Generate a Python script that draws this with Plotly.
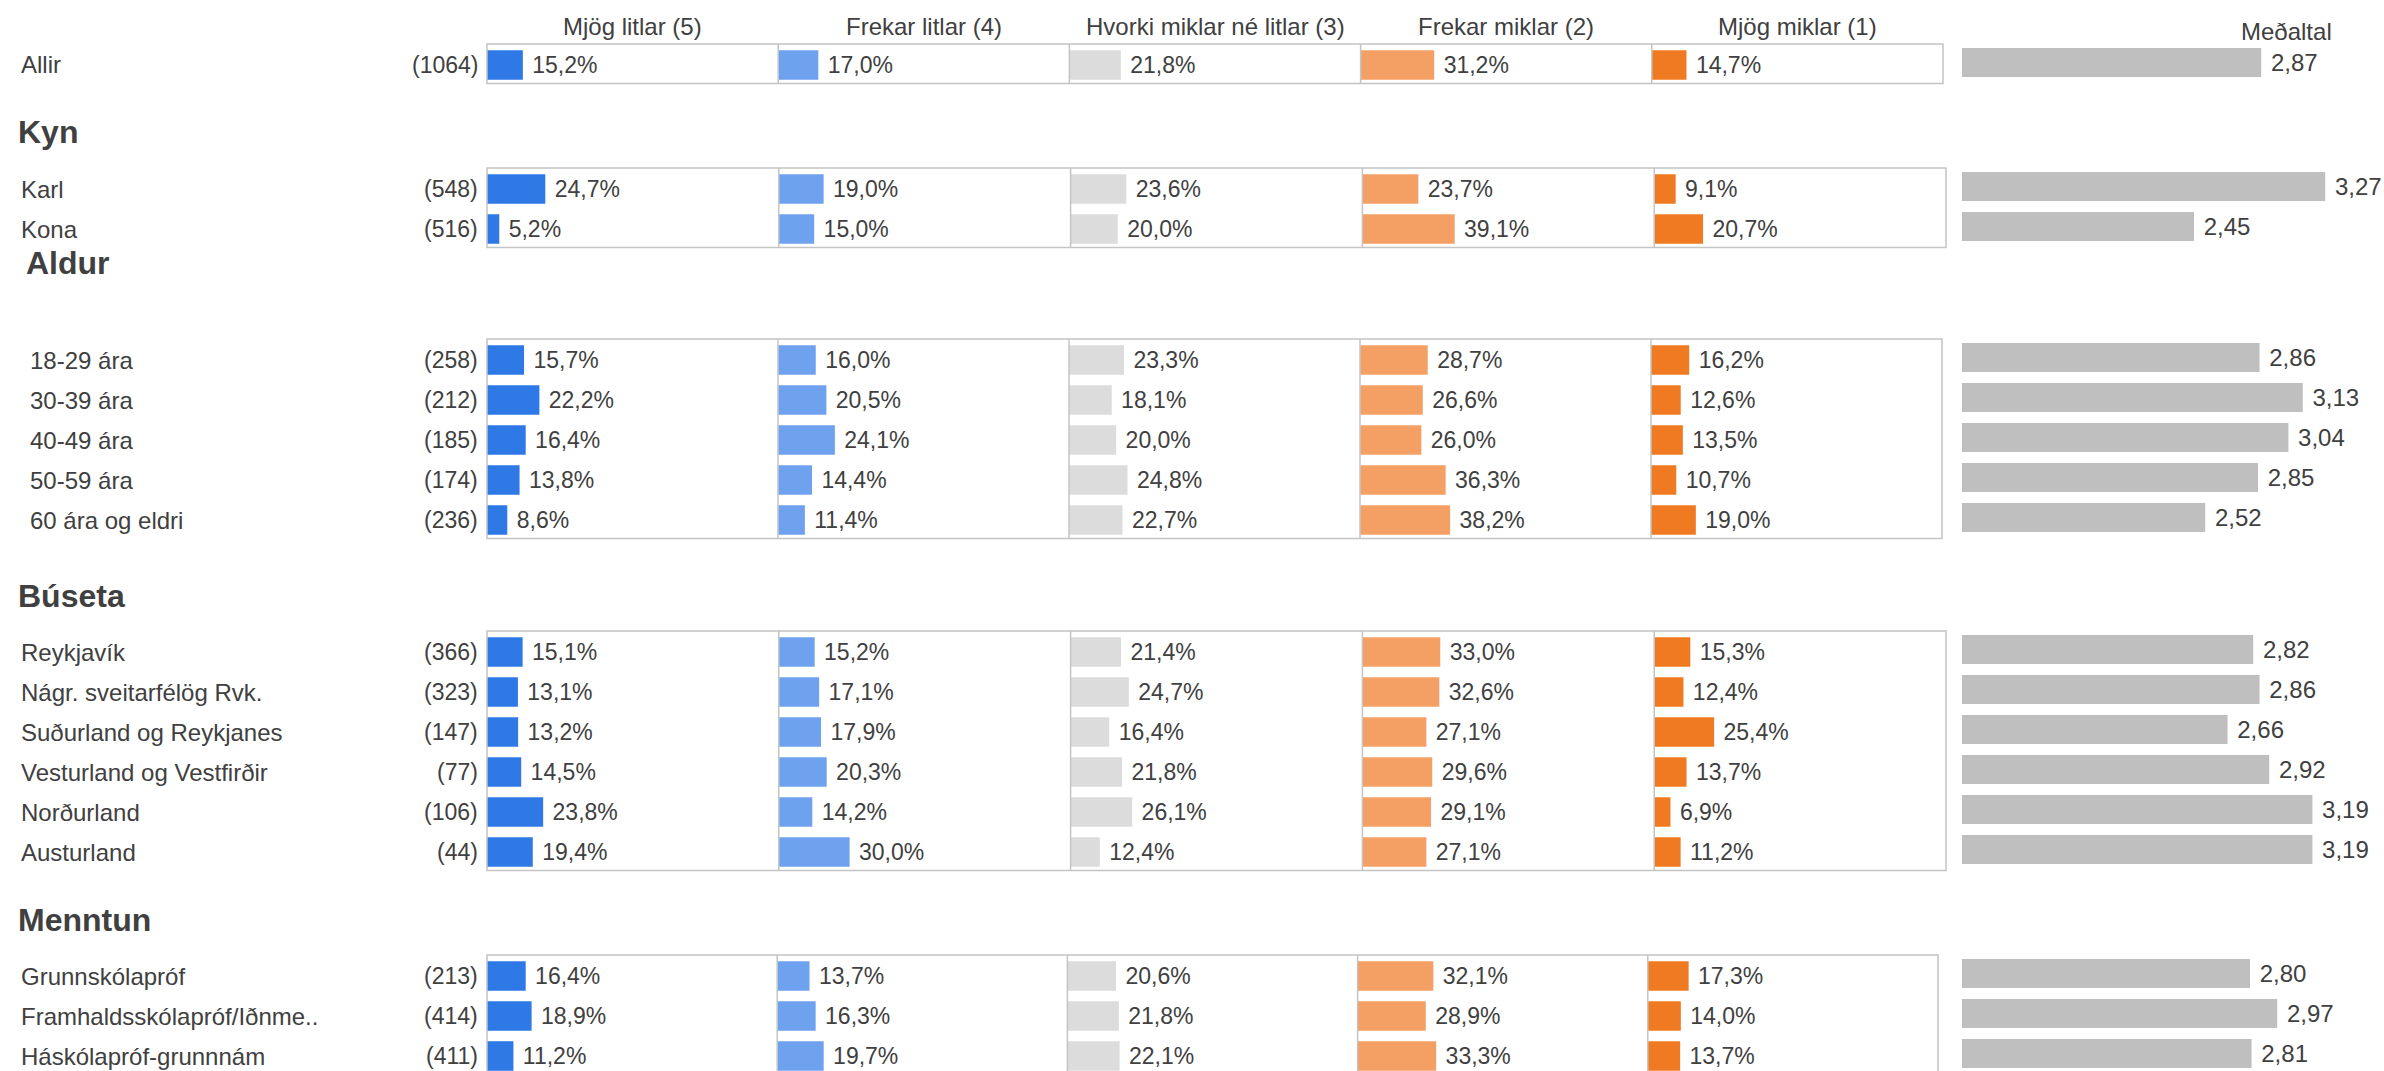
import plotly.graph_objects as go

# ---------------- data ----------------
categories = ["Allir",
              "Karl", "Kona",
              "18-29 ára", "30-39 ára", "40-49 ára", "50-59 ára", "60 ára og eldri",
              "Reykjavík", "Nágr. sveitarfélög Rvk.", "Suðurland og Reykjanes",
              "Vesturland og Vestfirðir", "Norðurland", "Austurland",
              "Grunnskólapróf", "Framhaldsskólapróf/Iðnme..", "Háskólapróf-grunnnám"]
group_of = ["",
            "Kyn", "Kyn",
            "Aldur", "Aldur", "Aldur", "Aldur", "Aldur",
            "Búseta", "Búseta", "Búseta", "Búseta", "Búseta", "Búseta",
            "Menntun", "Menntun", "Menntun"]
counts = [1064, 548, 516, 258, 212, 185, 174, 236, 366, 323, 147, 77, 106, 44, 213, 414, 411]

mjog_litlar = [15.2, 24.7, 5.2, 15.7, 22.2, 16.4, 13.8, 8.6, 15.1, 13.1, 13.2, 14.5, 23.8, 19.4, 16.4, 18.9, 11.2]
frekar_litlar = [17.0, 19.0, 15.0, 16.0, 20.5, 24.1, 14.4, 11.4, 15.2, 17.1, 17.9, 20.3, 14.2, 30.0, 13.7, 16.3, 19.7]
hvorki = [21.8, 23.6, 20.0, 23.3, 18.1, 20.0, 24.8, 22.7, 21.4, 24.7, 16.4, 21.8, 26.1, 12.4, 20.6, 21.8, 22.1]
frekar_miklar = [31.2, 23.7, 39.1, 28.7, 26.6, 26.0, 36.3, 38.2, 33.0, 32.6, 27.1, 29.6, 29.1, 27.1, 32.1, 28.9, 33.3]
mjog_miklar = [14.7, 9.1, 20.7, 16.2, 12.6, 13.5, 10.7, 19.0, 15.3, 12.4, 25.4, 13.7, 6.9, 11.2, 17.3, 14.0, 13.7]
medaltal = [2.87, 3.27, 2.45, 2.86, 3.13, 3.04, 2.85, 2.52, 2.82, 2.86, 2.66, 2.92, 3.19, 3.19, 2.80, 2.97, 2.81]

col_headers = ["Mjög litlar (5)", "Frekar litlar (4)", "Hvorki miklar né litlar (3)",
               "Frekar miklar (2)", "Mjög miklar (1)"]
mean_header = "Meðaltal"
group_order = ["", "Kyn", "Aldur", "Búseta", "Menntun"]

# ---------------- style / layout ----------------
W, H = 2384, 1071
FONT = "Liberation Sans, Arial, sans-serif"
TXT = "#404040"
BORDER = "#C4C4C4"
col_colors = ["#2F79E6", "#6FA2EE", "#DCDCDC", "#F4A064", "#F07A22"]
MEAN_COLOR = "#BFBFBF"
FS_LABEL = 24
FS_COUNT = 23
FS_PCT = 23
FS_MEAN = 24
FS_HEAD = 24
FS_GROUP = 32
PITCH = 40.0
BOX_LEFT = 487
PX_PER_PCT = 2.36
MEAN_X0, MEAN_X1 = 1962, 2362
MEAN_RANGE = [1, 3.5]

spec = {
    "": dict(first=65, label_x=19, right=1943),
    "Kyn": dict(header_y=132, header_x=16, first=189, label_x=19, right=1946),
    "Aldur": dict(header_y=263, header_x=24, first=360, label_x=28, right=1942),
    "Búseta": dict(header_y=596, header_x=16, first=652, label_x=19, right=1946),
    "Menntun": dict(header_y=920, header_x=16, first=976, label_x=19, right=1938, open_bottom=True),
}

cols = [mjog_litlar, frekar_litlar, hvorki, frekar_miklar, mjog_miklar]


def px(p):
    return p / W


def py(p):
    return 1 - p / H


def fmt_pct(v):
    return " " + f"{v:.1f}".replace(".", ",") + "%"


def fmt_mean(v):
    return " " + f"{v:.2f}".replace(".", ",")


fig = go.Figure()
layout_axes = {}
annotations = []
shapes = []
xa = 0
ya = 0

hidden = dict(showgrid=False, zeroline=False, showticklabels=False, showline=False,
              ticks="", fixedrange=True)

for g in group_order:
    s = spec[g]
    idx = [i for i, gg in enumerate(group_of) if gg == g]
    n = len(idx)
    c0 = s["first"]
    top = c0 - 21
    bottom = c0 + PITCH * (n - 1) + 18.5
    if s.get("open_bottom"):
        bottom = H
    yrange = [(bottom - c0) / PITCH, (top - c0) / PITCH]
    ypos = list(range(n))

    ya += 1
    y_pct = ya
    layout_axes[f"yaxis{'' if ya == 1 else ya}"] = dict(
        domain=[max(0, py(bottom)), py(top)], range=yrange, **hidden)
    ya += 1
    y_mean = ya
    layout_axes[f"yaxis{ya}"] = dict(
        domain=[max(0, py(bottom - 2.5)), py(top - 2.5)], range=yrange, **hidden)

    cw = (s["right"] - BOX_LEFT) / 5.0
    for c in range(5):
        xa += 1
        x0 = BOX_LEFT + c * cw
        layout_axes[f"xaxis{'' if xa == 1 else xa}"] = dict(
            domain=[px(x0), px(x0 + cw)], range=[0, cw / PX_PER_PCT],
            anchor=f"y{'' if y_pct == 1 else y_pct}", **hidden)
        vals = [cols[c][i] for i in idx]
        fig.add_trace(go.Bar(
            x=vals, y=ypos, orientation="h", width=0.74,
            marker=dict(color=col_colors[c], line=dict(width=0)),
            text=[fmt_pct(v) for v in vals], textposition="outside",
            constraintext="none", cliponaxis=False,
            textfont=dict(family=FONT, size=FS_PCT, color=TXT),
            xaxis=f"x{'' if xa == 1 else xa}", yaxis=f"y{'' if y_pct == 1 else y_pct}",
            showlegend=False, hoverinfo="skip"))
        if c > 0:
            shapes.append(dict(type="line", xref="paper", yref="paper",
                               x0=px(x0), x1=px(x0),
                               y0=py(bottom + (10 if s.get("open_bottom") else 0)), y1=py(top),
                               line=dict(color=BORDER, width=1.5)))
    if s.get("open_bottom"):
        shapes.append(dict(type="path", xref="paper", yref="paper",
                           path=f"M {px(BOX_LEFT)} {py(H + 10)} L {px(BOX_LEFT)} {py(top)} "
                                f"L {px(s['right'])} {py(top)} L {px(s['right'])} {py(H + 10)}",
                           line=dict(color=BORDER, width=1.5)))
    else:
        shapes.append(dict(type="rect", xref="paper", yref="paper",
                           x0=px(BOX_LEFT), x1=px(s["right"]), y0=py(bottom), y1=py(top),
                           line=dict(color=BORDER, width=1.5)))

    # mean panel
    xa += 1
    layout_axes[f"xaxis{xa}"] = dict(domain=[px(MEAN_X0), px(MEAN_X1)], range=MEAN_RANGE,
                                     anchor=f"y{y_mean}", **hidden)
    mvals = [medaltal[i] for i in idx]
    fig.add_trace(go.Bar(
        x=mvals, y=ypos, orientation="h", width=0.72,
        marker=dict(color=MEAN_COLOR, line=dict(width=0)),
        text=[fmt_mean(v) for v in mvals], textposition="outside",
        constraintext="none", cliponaxis=False,
        textfont=dict(family=FONT, size=FS_MEAN, color=TXT),
        xaxis=f"x{xa}", yaxis=f"y{y_mean}", showlegend=False, hoverinfo="skip"))

    yref = f"y{'' if y_pct == 1 else y_pct}"
    for k, i in enumerate(idx):
        annotations.append(dict(text=categories[i], xref="paper", yref=yref,
                                x=px(s["label_x"]), y=k, xanchor="left", yanchor="middle",
                                showarrow=False, font=dict(family=FONT, size=FS_LABEL, color=TXT)))
        annotations.append(dict(text=f"({counts[i]})", xref="paper", yref=yref,
                                x=px(480), y=k, xanchor="right", yanchor="middle",
                                showarrow=False, font=dict(family=FONT, size=FS_COUNT, color=TXT)))
    if g:
        annotations.append(dict(text=f"<b>{g}</b>", xref="paper", yref="paper",
                                x=px(s["header_x"]), y=py(s["header_y"]),
                                xanchor="left", yanchor="middle", showarrow=False,
                                font=dict(family=FONT, size=FS_GROUP, color=TXT)))

cw0 = (spec[""]["right"] - BOX_LEFT) / 5.0
for c, h in enumerate(col_headers):
    annotations.append(dict(text=h, xref="paper", yref="paper",
                            x=px(BOX_LEFT + (c + 0.5) * cw0), y=py(26),
                            xanchor="center", yanchor="middle", showarrow=False,
                            font=dict(family=FONT, size=FS_HEAD, color=TXT)))
annotations.append(dict(text=mean_header, xref="paper", yref="paper",
                        x=px(2286), y=py(31), xanchor="center", yanchor="middle",
                        showarrow=False, font=dict(family=FONT, size=FS_HEAD, color=TXT)))

fig.update_layout(
    width=W, height=H, margin=dict(l=0, r=0, t=0, b=0),
    paper_bgcolor="white", plot_bgcolor="rgba(0,0,0,0)",
    barmode="overlay", showlegend=False,
    annotations=annotations, shapes=shapes,
    font=dict(family=FONT, color=TXT),
    **layout_axes)

fig.write_html("out.html",
               config={"displayModeBar": False},
               post_script="document.body.style.margin='0px';document.body.style.overflow='hidden';")
